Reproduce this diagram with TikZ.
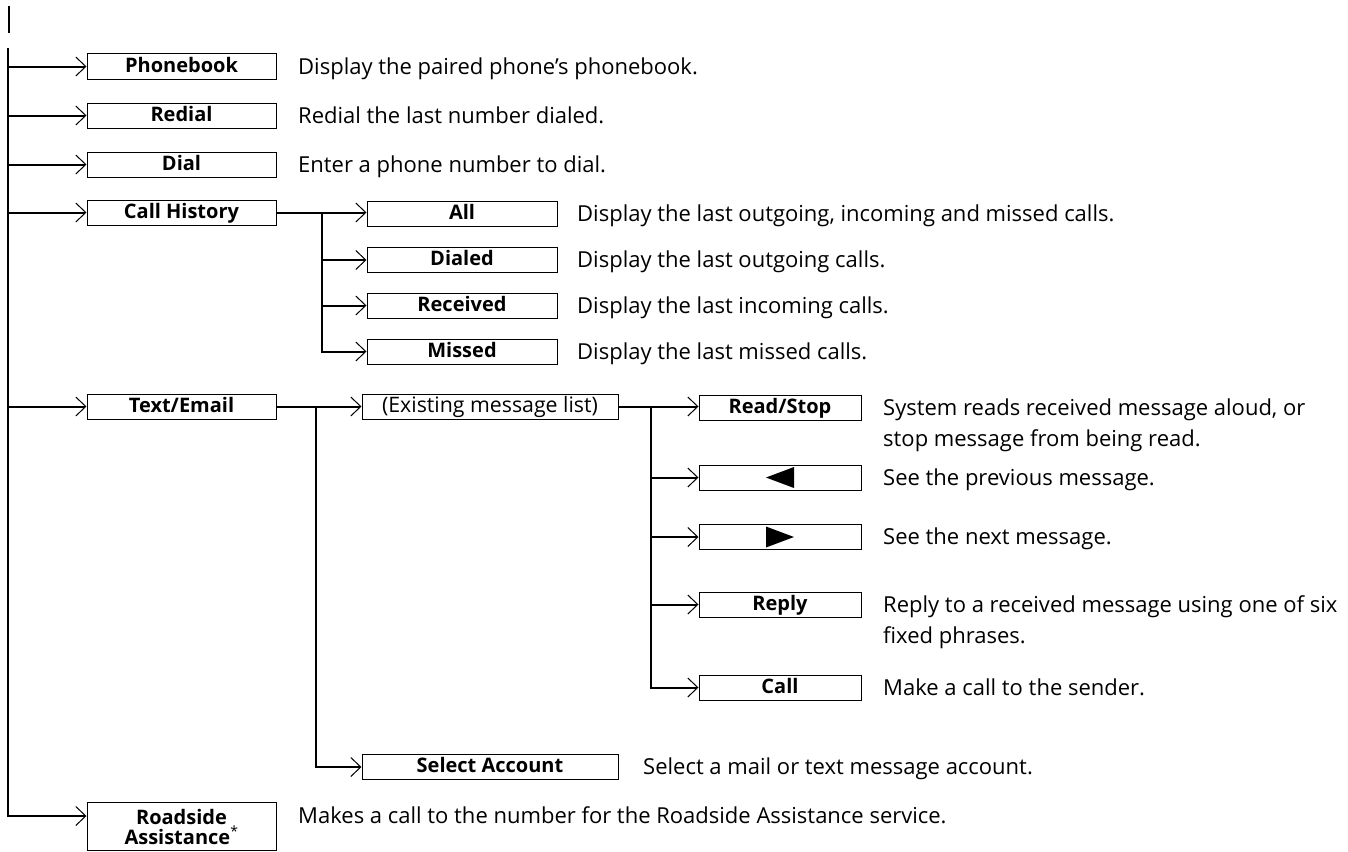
\documentclass[tikz,border=0pt]{standalone}
\usepackage{fontspec}
\setmainfont{Open Sans}
\usetikzlibrary{arrows.meta,calc}
\begin{document}
\begin{tikzpicture}[x=1pt,y=-1pt,
  conn/.style={line width=2pt},
  arr/.style={line width=2pt,-{Straight Barb[length=10pt,width=19pt,line width=1pt]}},
  menubox/.style={draw,line width=1pt,inner sep=0pt,minimum height=25pt,align=center,
     text height=14.3pt,text depth=3pt,
     font=\bfseries\fontsize{20}{21}\selectfont},
  lone/.style={menubox,minimum width=189pt},
  ltwo/.style={menubox,minimum width=190pt},
  lwide/.style={menubox,minimum width=256pt},
  lthree/.style={menubox,minimum width=162pt},
  desc/.style={anchor=base west,inner sep=0pt,align=left,font=\fontsize{22}{31}\selectfont},
]
\useasboundingbox (0,0) rectangle (1348,851);
% top mark
\coordinate (marka) at (9,6);
\coordinate (markb) at (9,33);
\draw[conn] (marka) -- (markb);
% level 1
\node[lone] (pb) at (181.5,66.5) {Phonebook};
\node[lone] (rd) at (181.5,115.5) {Redial};
\node[lone] (dl) at (181.5,164.5) {Dial};
\node[lone] (ch) at (181.5,212.5) {Call History};
\node[lone] (te) at (181.5,406.5) {Text/Email};
\node[draw,line width=1pt,inner sep=0pt,minimum width=189pt,minimum height=48pt,align=center,
  font=\bfseries\fontsize{20}{20}\selectfont,anchor=north] (rs) at (181.5,802) {Roadside\\Assistance\textsuperscript{\mdseries*}};
\coordinate (rsin) at ($(rs.north west)+(0,14)$);
\coordinate (trunk) at (8,48);
\draw[arr] (trunk) -- (trunk |- rsin) -- (rsin);
\foreach \n in {pb,rd,dl,ch,te} \draw[arr] (trunk |- \n.west) -- (\n.west);
\node[desc] at (298,74.4) {Display the paired phone’s phonebook.};
\node[desc] at (298,123.4) {Redial the last number dialed.};
\node[desc] at (298,172.4) {Enter a phone number to dial.};
\node[desc] at (298,823.9) {Makes a call to the number for the Roadside Assistance service.};
% call history
\node[ltwo] (all) at (462,214) {All};
\node[ltwo] (dia) at (462,260) {Dialed};
\node[ltwo] (rec) at (462,305.5) {Received};
\node[ltwo] (mis) at (462,351.5) {Missed};
\coordinate (chb) at (322,0);
\draw[arr] (ch.east) -- (all.west |- ch.east);
\draw[arr] (chb |- ch.east) |- (mis.west);
\foreach \n in {dia,rec} \draw[arr] (chb |- \n.west) -- (\n.west);
\node[desc] at (577,221.9) {Display the last outgoing, incoming and missed calls.};
\node[desc] at (577,267.9) {Display the last outgoing calls.};
\node[desc] at (577,313.4) {Display the last incoming calls.};
\node[desc] at (577,359.4) {Display the last missed calls.};
% text/email
\node[lwide,font=\fontsize{21.3}{22}\selectfont] (ex) at (490,406.5) {(Existing message list)};
\node[lwide] (sa) at (490,767) {Select Account};
\coordinate (teb) at (316,0);
\draw[arr] (te.east) -- (ex.west);
\draw[arr] (teb |- te.east) |- (sa.west);
\node[desc] at (643,774.9) {Select a mail or text message account.};
% message list
\node[lthree] (rs3) at (780,407.5) {Read/Stop};
\node[lthree] (prev) at (780,477.5) {};
\node[lthree] (next) at (780,537) {};
\node[lthree] (rep) at (780,604.5) {Reply};
\node[lthree] (cal) at (780,687.5) {Call};
\fill ($(prev.center)+(-14,0)$) -- ++(28,-10.5) -- ++(0,21) -- cycle;
\fill ($(next.center)+(14,0)$) -- ++(-28,-10.5) -- ++(0,21) -- cycle;
\coordinate (exb) at (651,0);
\draw[arr] (ex.east) -- (rs3.west |- ex.east);
\draw[arr] (exb |- ex.east) |- (cal.west);
\foreach \n in {prev,next,rep} \draw[arr] (exb |- \n.west) -- (\n.west);
\node[desc] at (883,446.4) {System reads received message aloud, or\\stop message from being read.};
\node[desc] at (883,485.4) {See the previous message.};
\node[desc] at (883,544.9) {See the next message.};
\node[desc] at (883,643.4) {Reply to a received message using one of six\\fixed phrases.};
\node[desc] at (883,695.4) {Make a call to the sender.};
\end{tikzpicture}
\end{document}
